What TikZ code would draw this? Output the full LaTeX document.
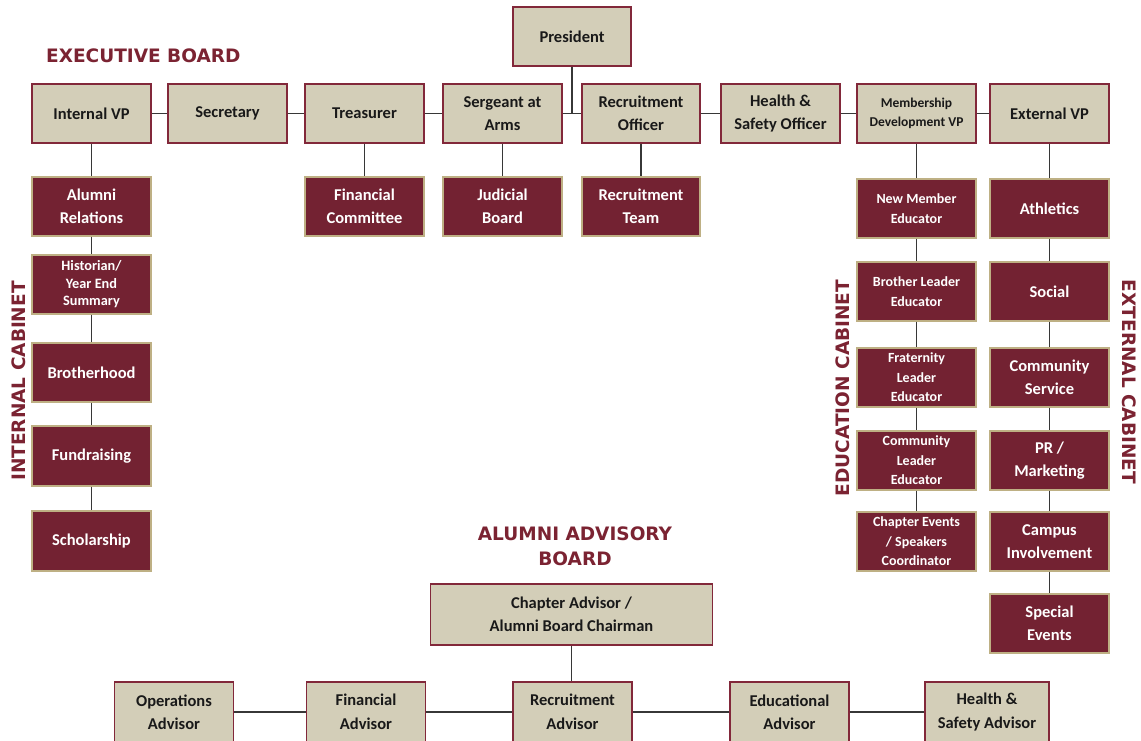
\documentclass[tikz,border=0pt]{standalone}
\usepackage{fontspec}
\setmainfont{Carlito}
\newfontfamily\headfont{DejaVu Sans}
\definecolor{tanF}{RGB}{211,206,184}
\definecolor{marF}{RGB}{115,34,50}
\definecolor{bordM}{RGB}{130,40,58}
\definecolor{bordT}{RGB}{190,176,132}
\definecolor{lineC}{RGB}{55,55,55}
\definecolor{headC}{RGB}{123,35,50}
\tikzset{
  boxbase/.style={line width=1.2pt, minimum width=119pt, minimum height=59pt, inner sep=0pt, align=center, font=\fontsize{16.5}{23.5}\selectfont\bfseries},
  exec/.style={boxbase, draw=bordM, fill=tanF, text={rgb,255:red,25;green,25;blue,25}},
  cab/.style={boxbase, draw=bordT, fill=marF, text=white},
  small/.style={font=\fontsize{14}{19.5}\selectfont\bfseries},
  tiny/.style={font=\fontsize{14.3}{17.5}\selectfont\bfseries},
  conn/.style={draw=lineC, line width=1.4pt},
  heading/.style={text=headC, inner sep=0pt, align=center, font=\headfont\bfseries\fontsize{18.5}{25}\selectfont}
}
\begin{document}
\begin{tikzpicture}[x=1pt,y=-1pt]
\useasboundingbox (0,0) rectangle (1141,740);
\clip (0,0) rectangle (1141,740);

% headings
\node[heading, anchor=west] (hexec) at (46,56) {EXECUTIVE BOARD};
\node[heading] (halum) at (575,546.5) {ALUMNI ADVISORY\\BOARD};
\node[heading, rotate=90] (hint) at (18.5,381) {INTERNAL CABINET};
\node[heading, rotate=90] (hedu) at (843,388) {EDUCATION CABINET};
\node[heading, rotate=-90] (hext) at (1129,382) {EXTERNAL CABINET};

% executive board
\node[exec, minimum width=118pt] (pres) at (572,36.5) {President};
\node[exec] (iv)  at (91.5,113.5) {Internal VP};
\node[exec] (sec) at (227.5,113.5) {Secretary};
\node[exec] (tre) at (364.5,113.5) {Treasurer};
\node[exec] (sgt) at (502.5,113.5) {Sergeant at\\Arms};
\node[exec, minimum width=118pt] (rof) at (641,113.5) {Recruitment\\Officer};
\node[exec] (hso) at (780.5,113.5) {Health \&\\Safety Officer};
\node[exec, font=\fontsize{13.5}{19}\selectfont\bfseries] (mdv) at (916.5,113.5) {Membership\\Development VP};
\node[exec] (evp) at (1049.5,113.5) {External VP};

% committees under exec
\node[cab] (fc) at (364.5,206.5) {Financial\\Committee};
\node[cab] (jb) at (502.5,206.5) {Judicial\\Board};
\node[cab, minimum width=118pt] (rt) at (641,206.5) {Recruitment\\Team};

% internal cabinet
\node[cab] (ar)   at (91.5,206.5) {Alumni\\Relations};
\node[cab, tiny] (hist) at (91.5,284.5) {Historian/\\Year End\\Summary};
\node[cab] (bro)  at (91.5,372.5) {Brotherhood};
\node[cab, minimum height=60pt] (fund) at (91.5,456) {Fundraising};
\node[cab, minimum height=60pt] (sch)  at (91.5,541) {Scholarship};

% education cabinet
\node[cab, small] (nme) at (916.5,208.5) {New Member\\Educator};
\node[cab, small] (ble) at (916.5,291.5) {Brother Leader\\Educator};
\node[cab, small] (fle) at (916.5,377.5) {Fraternity\\Leader\\Educator};
\node[cab, small] (cle) at (916.5,460.5) {Community\\Leader\\Educator};
\node[cab, small] (ce)  at (916.5,541.5) {Chapter Events\\/ Speakers\\Coordinator};

% external cabinet
\node[cab] (ath)  at (1049.5,208.5) {Athletics};
\node[cab] (soc)  at (1049.5,291.5) {Social};
\node[cab] (cs)   at (1049.5,377.5) {Community\\Service};
\node[cab] (pr)   at (1049.5,460.5) {PR /\\Marketing};
\node[cab] (camp) at (1049.5,541.5) {Campus\\Involvement};
\node[cab] (se)   at (1049.5,623.5) {Special\\Events};

% alumni advisory board
\node[exec, minimum width=282pt, minimum height=61pt] (ca) at (571.5,614.5) {Chapter Advisor /\\Alumni Board Chairman};
\node[exec, minimum height=60pt] (oa)  at (174,712) {Operations\\Advisor};
\node[exec, minimum height=60pt] (fa)  at (366,712) {Financial\\Advisor};
\node[exec, minimum height=60pt] (rad) at (572.5,712) {Recruitment\\Advisor};
\node[exec, minimum height=60pt] (eda) at (789.5,712) {Educational\\Advisor};
\node[exec, minimum height=60pt, minimum width=124pt] (hsa) at (987,712) {Health \&\\Safety Advisor};

% connectors: executive row
\draw[conn] (pres.south) -- (pres.south |- sgt.east);
\draw[conn] (iv.east) -- (sec.west);
\draw[conn] (sec.east) -- (tre.west);
\draw[conn] (tre.east) -- (sgt.west);
\draw[conn] (sgt.east) -- (rof.west);
\draw[conn] (rof.east) -- (hso.west);
\draw[conn] (hso.east) -- (mdv.west);
\draw[conn] (mdv.east) -- (evp.west);
\draw[conn] (tre.south) -- (fc.north);
\draw[conn] (sgt.south) -- (jb.north);
\draw[conn] (rof.south) -- (rt.north);
% internal
\draw[conn] (iv.south) -- (ar.north);
\draw[conn] (ar.south) -- (hist.north);
\draw[conn] (hist.south) -- (bro.north);
\draw[conn] (bro.south) -- (fund.north);
\draw[conn] (fund.south) -- (sch.north);
% education
\draw[conn] (mdv.south) -- (nme.north);
\draw[conn] (nme.south) -- (ble.north);
\draw[conn] (ble.south) -- (fle.north);
\draw[conn] (fle.south) -- (cle.north);
\draw[conn] (cle.south) -- (ce.north);
% external
\draw[conn] (evp.south) -- (ath.north);
\draw[conn] (ath.south) -- (soc.north);
\draw[conn] (soc.south) -- (cs.north);
\draw[conn] (cs.south) -- (pr.north);
\draw[conn] (pr.south) -- (camp.north);
\draw[conn] (camp.south) -- (se.north);
% alumni
\draw[conn] (ca.south) -- (ca.south |- rad.north);
\draw[conn] (oa.east) -- (fa.west);
\draw[conn] (fa.east) -- (rad.west);
\draw[conn] (rad.east) -- (eda.west);
\draw[conn] (eda.east) -- (hsa.west);
\end{tikzpicture}
\end{document}
